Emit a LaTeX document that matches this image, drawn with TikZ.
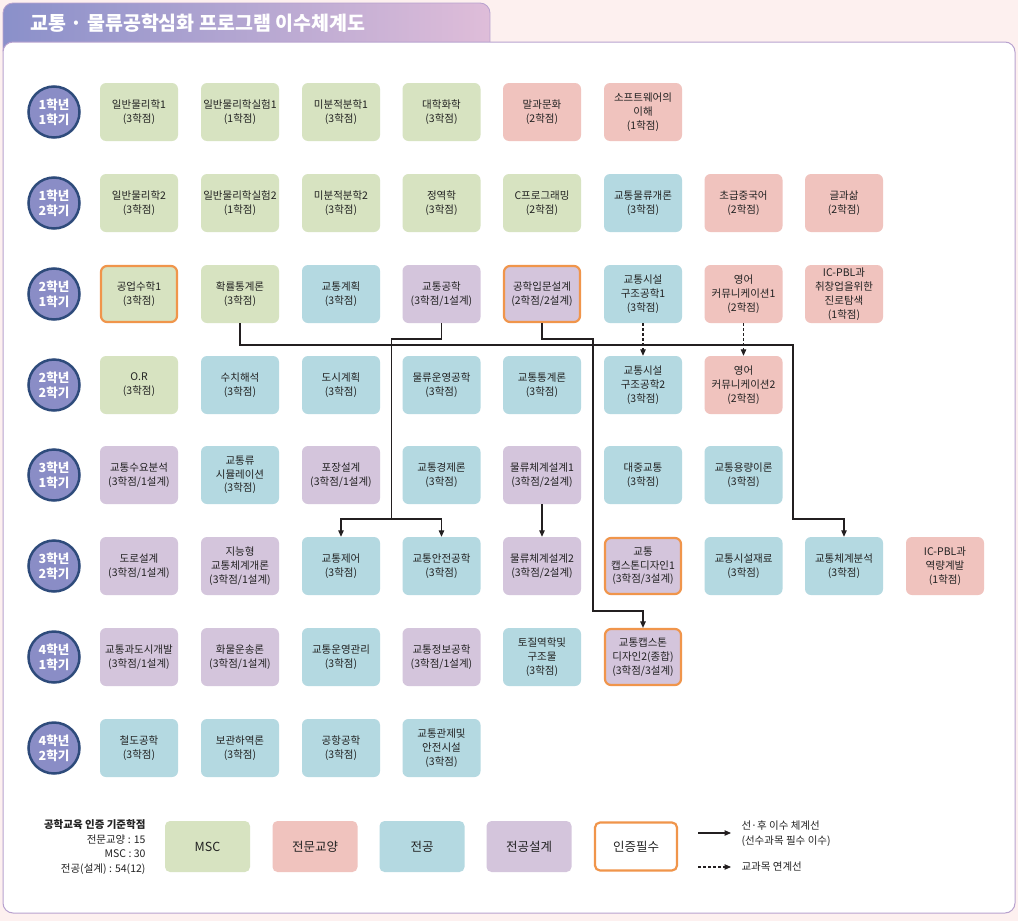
\documentclass[tikz,border=0pt]{standalone}
\usepackage{fontspec}
\setmainfont{Noto Sans CJK KR}
\usetikzlibrary{arrows.meta}
\definecolor{bgpink}{HTML}{FDF0EF}
\definecolor{panelline}{HTML}{B8A2CF}
\definecolor{tabL}{HTML}{8A90CA}
\definecolor{tabR}{HTML}{DFBDD9}
\definecolor{mscC}{HTML}{D7E3C1}
\definecolor{libC}{HTML}{F0C3BE}
\definecolor{majC}{HTML}{B4D9E1}
\definecolor{desC}{HTML}{D4C5DC}
\definecolor{oraC}{HTML}{F0954B}
\definecolor{txtC}{HTML}{222222}
\definecolor{semFill}{HTML}{8A8DC6}
\definecolor{semLine}{HTML}{2E4B7B}
\definecolor{lineC}{HTML}{231F20}
\begin{document}
\begin{tikzpicture}[x=1pt,y=-1pt,
  course/.style={rectangle, rounded corners=6pt, minimum width=78pt, minimum height=58pt,
    inner sep=1pt, align=center, font=\fontsize{10.5}{13.8}\selectfont, text=txtC},
  cmsc/.style={course, fill=mscC},
  clib/.style={course, fill=libC},
  cmaj/.style={course, fill=majC},
  cdes/.style={course, fill=desC},
  creq/.style={draw=oraC, line width=2.2pt, minimum width=76pt, minimum height=56pt},
  sem/.style={circle, fill=semFill, draw=semLine, line width=2.5pt, minimum size=51pt,
    inner sep=0pt, align=center, text=white, font=\fontsize{12.5}{15}\selectfont\bfseries},
  legbox/.style={rectangle, rounded corners=5pt, minimum width=85pt, minimum height=51pt,
    font=\fontsize{12.5}{14}\selectfont, text=txtC},
  conn/.style={draw=lineC, line width=1.1pt},
  arr/.style={-{Triangle[length=6.5pt,width=5.5pt]}},
  dashconn/.style={conn, dash pattern=on 3pt off 2pt},
  smalltxt/.style={font=\fontsize{10.5}{14.5}\selectfont, text=txtC}
]
\useasboundingbox (0,0) rectangle (1018,921);
\fill[bgpink] (0,0) rectangle (1018,921);
% header tab
\shade[left color=tabL, right color=tabR, draw=panelline, line width=0.8pt, rounded corners=10pt]
  (3,60) -- (3,3) -- (490,3) -- (490,60) -- cycle;
% main panel
\filldraw[fill=white, draw=panelline, line width=1pt, rounded corners=10pt]
  (3,42) rectangle (1015,913);
\node[anchor=west, text=white, font=\fontsize{19.5}{21}\selectfont\bfseries] (title) at (27,23)
  {교통 · 물류공학심화 프로그램 이수체계도};

% semester circles
\node[sem] (s1) at (54,112) {1학년\\1학기};
\node[sem] (s2) at (54,203) {1학년\\2학기};
\node[sem] (s3) at (54,294) {2학년\\1학기};
\node[sem] (s4) at (54,385) {2학년\\2학기};
\node[sem] (s5) at (54,475) {3학년\\1학기};
\node[sem] (s6) at (54,566) {3학년\\2학기};
\node[sem] (s7) at (54,657) {4학년\\1학기};
\node[sem] (s8) at (54,748) {4학년\\2학기};

% row 1
\node[cmsc] (r1c1) at (139,112) {일반물리학1\\(3학점)};
\node[cmsc] (r1c2) at (240,112) {일반물리학실험1\\(1학점)};
\node[cmsc] (r1c3) at (341,112) {미분적분학1\\(3학점)};
\node[cmsc] (r1c4) at (441.5,112) {대학화학\\(3학점)};
\node[clib] (r1c5) at (542,112) {말과문화\\(2학점)};
\node[clib] (r1c6) at (643,112) {소프트웨어의\\이해\\(1학점)};
% row 2
\node[cmsc] (r2c1) at (139,203) {일반물리학2\\(3학점)};
\node[cmsc] (r2c2) at (240,203) {일반물리학실험2\\(1학점)};
\node[cmsc] (r2c3) at (341,203) {미분적분학2\\(3학점)};
\node[cmsc] (r2c4) at (441.5,203) {정역학\\(3학점)};
\node[cmsc] (r2c5) at (542,203) {C프로그래밍\\(2학점)};
\node[cmaj] (r2c6) at (643,203) {교통물류개론\\(3학점)};
\node[clib] (r2c7) at (743.5,203) {초급중국어\\(2학점)};
\node[clib] (r2c8) at (844,203) {글과삶\\(2학점)};
% row 3
\node[cmsc,creq] (r3c1) at (139,294) {공업수학1\\(3학점)};
\node[cmsc] (r3c2) at (240,294) {확률통계론\\(3학점)};
\node[cmaj] (r3c3) at (341,294) {교통계획\\(3학점)};
\node[cdes] (r3c4) at (441.5,294) {교통공학\\(3학점/1설계)};
\node[cdes,creq] (r3c5) at (542,294) {공학입문설계\\(2학점/2설계)};
\node[cmaj] (r3c6) at (643,294) {교통시설\\구조공학1\\(3학점)};
\node[clib] (r3c7) at (743.5,294) {영어\\커뮤니케이션1\\(2학점)};
\node[clib] (r3c8) at (844,294) {IC-PBL과\\취창업을위한\\진로탐색\\(1학점)};
% row 4
\node[cmsc] (r4c1) at (139,385) {O.R\\(3학점)};
\node[cmaj] (r4c2) at (240,385) {수치해석\\(3학점)};
\node[cmaj] (r4c3) at (341,385) {도시계획\\(3학점)};
\node[cmaj] (r4c4) at (441.5,385) {물류운영공학\\(3학점)};
\node[cmaj] (r4c5) at (542,385) {교통통계론\\(3학점)};
\node[cmaj] (r4c6) at (643,385) {교통시설\\구조공학2\\(3학점)};
\node[clib] (r4c7) at (743.5,385) {영어\\커뮤니케이션2\\(2학점)};
% row 5
\node[cdes] (r5c1) at (139,475) {교통수요분석\\(3학점/1설계)};
\node[cmaj] (r5c2) at (240,475) {교통류\\시뮬레이션\\(3학점)};
\node[cdes] (r5c3) at (341,475) {포장설계\\(3학점/1설계)};
\node[cmaj] (r5c4) at (441.5,475) {교통경제론\\(3학점)};
\node[cdes] (r5c5) at (542,475) {물류체계설계1\\(3학점/2설계)};
\node[cmaj] (r5c6) at (643,475) {대중교통\\(3학점)};
\node[cmaj] (r5c7) at (743.5,475) {교통용량이론\\(3학점)};
% row 6
\node[cdes] (r6c1) at (139,566) {도로설계\\(3학점/1설계)};
\node[cdes] (r6c2) at (240,566) {지능형\\교통체계개론\\(3학점/1설계)};
\node[cmaj] (r6c3) at (341,566) {교통제어\\(3학점)};
\node[cmaj] (r6c4) at (441.5,566) {교통안전공학\\(3학점)};
\node[cdes] (r6c5) at (542,566) {물류체계설계2\\(3학점/2설계)};
\node[cdes,creq] (r6c6) at (643,566) {교통\\캡스톤디자인1\\(3학점/3설계)};
\node[cmaj] (r6c7) at (743.5,566) {교통시설재료\\(3학점)};
\node[cmaj] (r6c8) at (844,566) {교통체계분석\\(3학점)};
\node[clib] (r6c9) at (945,566) {IC-PBL과\\역량계발\\(1학점)};
% row 7
\node[cdes] (r7c1) at (139,657) {교통과도시개발\\(3학점/1설계)};
\node[cdes] (r7c2) at (240,657) {화물운송론\\(3학점/1설계)};
\node[cmaj] (r7c3) at (341,657) {교통운영관리\\(3학점)};
\node[cdes] (r7c4) at (441.5,657) {교통정보공학\\(3학점/1설계)};
\node[cmaj] (r7c5) at (542,657) {토질역학및\\구조물\\(3학점)};
\node[cdes,creq] (r7c6) at (643,657) {교통캡스톤\\디자인2(종합)\\(3학점/3설계)};
% row 8
\node[cmaj] (r8c1) at (139,748) {철도공학\\(3학점)};
\node[cmaj] (r8c2) at (240,748) {보관하역론\\(3학점)};
\node[cmaj] (r8c3) at (341,748) {공항공학\\(3학점)};
\node[cmaj] (r8c4) at (441.5,748) {교통관제및\\안전시설\\(3학점)};

% connectors
\coordinate (a1) at (793,345);
\coordinate (a2) at (793,519);
\draw[conn,arr] (r3c2.south) |- (a1) -- (a2) -| (r6c8.north);
\coordinate (b1) at (391.5,339);
\coordinate (b2) at (391.5,519);
\draw[conn] (r3c4.south) |- (b1) -- (b2);
\draw[conn,arr] (b2) -| (r6c3.north);
\draw[conn,arr] (b2) -| (r6c4.north);
\coordinate (c1) at (593,339);
\coordinate (c2) at (593,611);
\draw[conn,arr] (r3c5.south) |- (c1) -- (c2) -| (r7c6.north);
\draw[conn,arr] (r5c5.south) -- (r6c5.north);
\draw[dashconn,arr] (r3c6.south) -- (r4c6.north);
\draw[dashconn,arr] (r3c7.south) -- (r4c7.north);

% legend
\node[anchor=east, align=right, smalltxt] (credits) at (149,847)
  {\textbf{공학교육 인증 기준학점}\\전문교양 : 15\\MSC : 30\\전공(설계) : 54(12)};
\node[legbox, fill=mscC] (l1) at (207.5,846.5) {MSC};
\node[legbox, fill=libC] (l2) at (315,846.5) {전문교양};
\node[legbox, fill=majC] (l3) at (422,846.5) {전공};
\node[legbox, fill=desC] (l4) at (529,846.5) {전공설계};
\node[legbox, fill=white, draw=oraC, line width=2.2pt, minimum width=82pt, minimum height=48pt] (l5) at (636,846.5) {인증필수};
\coordinate (la1) at (698,833);
\coordinate (la2) at (731,833);
\draw[conn,arr] (la1) -- (la2);
\node[anchor=west, align=left, smalltxt] (lt1) at (738,833.5) {선·후 이수 체계선\\(선수과목 필수 이수)};
\coordinate (lb1) at (698,867);
\coordinate (lb2) at (731,867);
\draw[dashconn,arr] (lb1) -- (lb2);
\node[anchor=west, smalltxt] (lt2) at (738,867) {교과목 연계선};
\end{tikzpicture}
\end{document}
